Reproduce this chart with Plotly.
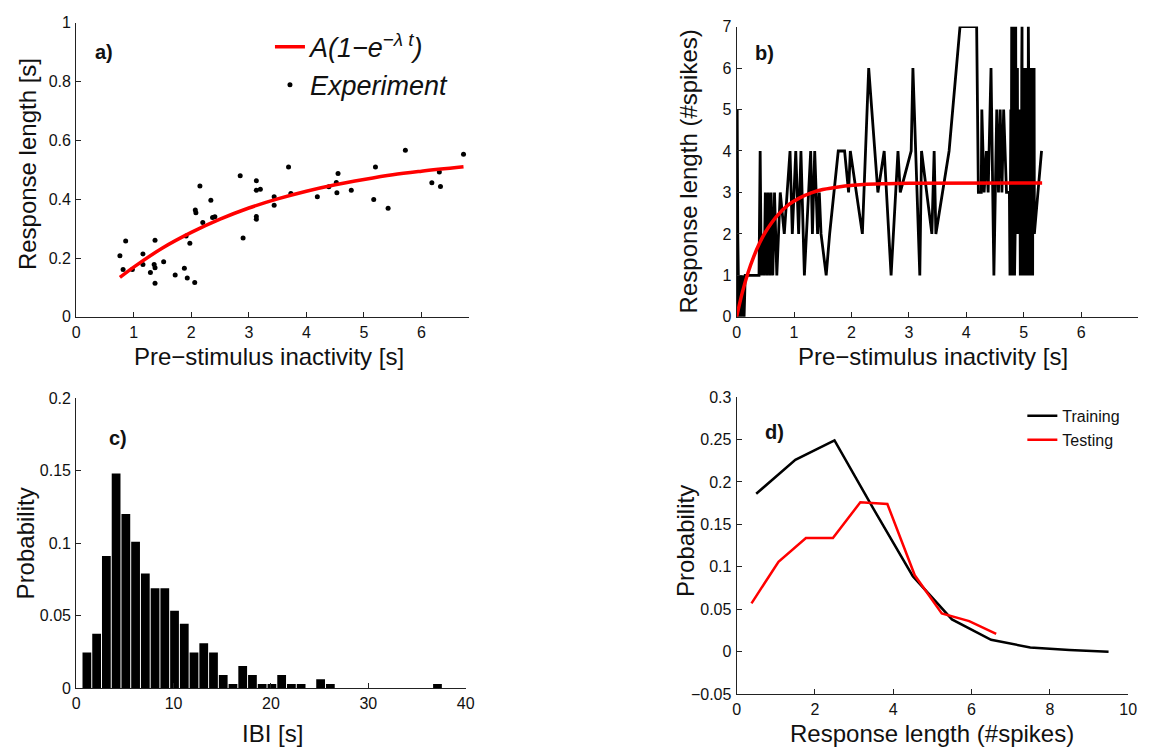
import plotly.graph_objects as go

FONT = "Liberation Sans, Arial, Helvetica, sans-serif"
W, H = 1149, 753

# ---------------- panel a: response length vs. pre-stimulus inactivity ----------------
pre_t = [0.76, 0.815, 0.86, 0.976, 1.16, 1.16, 1.29, 1.37, 1.355, 1.37, 1.37, 1.52,
         1.72, 1.88, 1.91, 1.93, 1.975, 2.06, 2.07, 2.08, 2.15, 2.20, 2.34, 2.37,
         2.41, 2.85, 2.90, 3.13, 3.13, 3.13, 3.13, 3.20, 3.44, 3.44, 3.69, 3.73,
         4.19, 4.39, 4.52, 4.55, 4.53, 4.78, 5.17, 5.20, 5.42, 5.72, 6.18, 6.31,
         6.33, 6.73]
resp_len = [0.208, 0.161, 0.258, 0.161, 0.214, 0.178, 0.151, 0.260, 0.178, 0.167,
            0.114, 0.187, 0.142, 0.165, 0.275, 0.132, 0.250, 0.117, 0.363, 0.354,
            0.445, 0.321, 0.396, 0.338, 0.340, 0.480, 0.268, 0.463, 0.430, 0.341,
            0.332, 0.434, 0.408, 0.379, 0.509, 0.419, 0.408, 0.442, 0.457, 0.487,
            0.422, 0.430, 0.399, 0.509, 0.369, 0.566, 0.456, 0.492, 0.443, 0.553]

# fitted curve A(1-exp(-lambda t)) sampled along t
fit_t = [0.76, 1.0, 1.5, 2.0, 2.5, 3.0, 3.5, 4.0, 4.5, 5.0, 5.5, 6.0, 6.73]
fit_len = [0.134, 0.169, 0.234, 0.287, 0.332, 0.370, 0.401, 0.427, 0.449, 0.467,
           0.483, 0.495, 0.510]

# ---------------- panel b: response length in spikes ----------------
spk_t = [0.00, 0.01, 0.02, 0.04, 0.06, 0.08, 0.10, 0.13, 0.15, 0.39, 0.41, 0.43,
         0.45, 0.48, 0.50, 0.53, 0.55, 0.58, 0.60, 0.63, 0.66, 0.70, 0.76, 0.83,
         0.93, 0.97, 1.03, 1.08, 1.12, 1.18, 1.29, 1.32, 1.36, 1.41, 1.44, 1.47,
         1.56, 1.62, 1.77, 1.88, 1.95, 1.98, 2.19, 2.30, 2.46, 2.57, 2.69, 2.81,
         2.85, 3.04, 3.07, 3.19, 3.22, 3.40, 3.44, 3.47, 3.70, 3.89, 4.18, 4.21,
         4.26, 4.27, 4.31, 4.35, 4.38, 4.43, 4.48, 4.53, 4.56, 4.59, 4.62, 4.65,
         4.70, 4.75,
         4.760, 4.765, 4.770, 4.775, 4.780, 4.785, 4.790, 4.795, 4.800, 4.805,
         4.810, 4.815, 4.820, 4.825, 4.830, 4.835, 4.840, 4.845, 4.850, 4.855,
         4.860, 4.865, 4.870, 4.875, 4.880, 4.885, 4.890, 4.895, 4.900, 4.905,
         4.910, 4.915, 4.920, 4.925, 4.930, 4.935, 4.940, 4.945, 4.950, 4.955,
         4.960, 4.965, 4.970, 4.975, 4.980, 4.985, 4.990, 4.995, 5.000, 5.005,
         5.010, 5.015, 5.020, 5.025, 5.030, 5.035, 5.040, 5.045, 5.050, 5.055,
         5.060, 5.065, 5.070, 5.075, 5.080, 5.085, 5.090, 5.095, 5.100, 5.105,
         5.110, 5.115, 5.120, 5.125, 5.130, 5.135, 5.140, 5.145, 5.150, 5.155,
         5.160, 5.165, 5.170, 5.175, 5.180, 5.185, 5.310]
spk_n = [0, 5, 2, 0, 1, 0, 1, 0, 1, 1, 4, 1,
         2, 1, 3, 1, 3, 1, 3, 1, 3, 1, 3, 2,
         4, 2, 4, 2, 4, 1, 4, 2, 4, 2, 3, 2,
         1, 2, 4, 4, 3, 4, 2, 6, 3, 4, 1, 4,
         3, 4, 6, 1, 4, 2, 4, 2, 4, 7, 7, 3,
         3, 5, 3, 4, 3, 6, 1, 5, 3, 5, 3, 5,
         3, 3,
         1, 5, 2, 5, 1, 4, 7, 2, 1, 5,
         3, 5, 1, 4, 2, 7, 1, 5, 2, 5,
         7, 2, 5, 3, 2, 5, 6, 2, 5, 3,
         2, 5, 2, 4, 5, 2, 1, 5, 3, 5,
         1, 6, 7, 1, 5, 2, 6, 1, 5, 2,
         6, 1, 5, 2, 6, 1, 5, 3, 6, 1,
         5, 2, 6, 1, 7, 1, 5, 2, 6, 1,
         5, 1, 6, 2, 5, 1, 6, 2, 5, 1,
         6, 2, 5, 2, 6, 2, 4]

fit_spk_t = [0.0, 0.1, 0.2, 0.3, 0.4, 0.5, 0.7, 0.9, 1.1, 1.3, 1.5, 1.8, 2.2, 2.6,
             3.0, 5.32]
fit_spk_n = [0.0, 0.59, 1.07, 1.46, 1.78, 2.04, 2.43, 2.70, 2.87, 2.99, 3.07, 3.14,
             3.19, 3.21, 3.22, 3.23]

# ---------------- panel c: inter-burst interval histogram ----------------
ibi_s = [1.1, 2.1, 3.1, 4.1, 5.1, 6.1, 7.1, 8.1, 9.1, 10.1, 11.1, 12.1, 13.1,
         14.1, 15.1, 16.1, 17.1, 18.1, 19.1, 20.1, 21.1, 22.1, 23.1, 25.1, 26.1,
         37.1]
ibi_prob = [0.0247, 0.0375, 0.0912, 0.148, 0.120, 0.101, 0.079, 0.069, 0.069,
            0.0535, 0.0445, 0.0247, 0.031, 0.0247, 0.0092, 0.003, 0.0153, 0.0092,
            0.003, 0.003, 0.0092, 0.003, 0.003, 0.0063, 0.003, 0.003]

# ---------------- panel d: response length distributions ----------------
train_len = [0.5, 1.5, 2.5, 3.5, 4.5, 5.5, 6.5, 7.5, 8.5, 9.5]
train_prob = [0.186, 0.226, 0.249, 0.168, 0.089, 0.038, 0.014, 0.005, 0.002, 0.0]
test_len = [0.38, 1.07, 1.77, 2.46, 3.16, 3.85, 4.55, 5.24, 5.94, 6.63]
test_prob = [0.057, 0.106, 0.134, 0.134, 0.176, 0.174, 0.090, 0.045, 0.036, 0.021]

RED = "#ff0000"
INK = "#111111"


def fx(px):
    return px / W


def fy(py):
    return 1 - py / H


fig = go.Figure()

# panel a
fig.add_trace(go.Scatter(x=pre_t, y=resp_len, mode="markers",
                         marker=dict(color="black", size=5),
                         name="<i>Experiment</i>", legend="legend", legendrank=2,
                         xaxis="x", yaxis="y"))
fig.add_trace(go.Scatter(x=fit_t, y=fit_len, mode="lines",
                         line=dict(color=RED, width=3.5, shape="spline"),
                         name="<i>A(1−e<sup>−λ t</sup>)</i>", legend="legend",
                         legendrank=1, xaxis="x", yaxis="y"))

# panel b
fig.add_trace(go.Scatter(x=spk_t, y=spk_n, mode="lines",
                         line=dict(color="black", width=2.8),
                         showlegend=False, xaxis="x2", yaxis="y2"))
fig.add_trace(go.Scatter(x=fit_spk_t, y=fit_spk_n, mode="lines",
                         line=dict(color=RED, width=3.5, shape="spline"),
                         showlegend=False, xaxis="x2", yaxis="y2"))

# panel c
fig.add_trace(go.Bar(x=ibi_s, y=ibi_prob, width=0.9,
                     marker=dict(color="black", line=dict(width=0)),
                     showlegend=False, xaxis="x3", yaxis="y3"))

# panel d
fig.add_trace(go.Scatter(x=train_len, y=train_prob, mode="lines",
                         line=dict(color="black", width=2.5),
                         name="Training", legend="legend2",
                         xaxis="x4", yaxis="y4"))
fig.add_trace(go.Scatter(x=test_len, y=test_prob, mode="lines",
                         line=dict(color=RED, width=2.5),
                         name="Testing", legend="legend2",
                         xaxis="x4", yaxis="y4"))

axis_style = dict(showline=True, linecolor="#222222", linewidth=1,
                  ticks="inside", ticklen=5, tickcolor="#222222",
                  showgrid=False, zeroline=False, mirror=False,
                  tickfont=dict(family=FONT, size=16, color=INK),
                  ticklabelstandoff=1)

fig.update_layout(
    width=W, height=H,
    margin=dict(l=0, r=0, t=0, b=0),
    paper_bgcolor="white", plot_bgcolor="white",
    font=dict(family=FONT, color=INK),
    xaxis=dict(axis_style, domain=[fx(73), fx(470)], range=[0, 6.82],
               tickvals=[0, 1, 2, 3, 4, 5, 6], anchor="y"),
    yaxis=dict(axis_style, domain=[fy(316), fy(15)], range=[0, 1],
               tickvals=[0, 0.2, 0.4, 0.6, 0.8, 1], anchor="x"),
    xaxis2=dict(axis_style, domain=[fx(741), fx(1147)], range=[0, 6.99],
                tickvals=[0, 1, 2, 3, 4, 5, 6], anchor="y2"),
    yaxis2=dict(axis_style, domain=[fy(316), fy(19)], range=[0, 7],
                tickvals=[0, 1, 2, 3, 4, 5, 6, 7], anchor="x2"),
    xaxis3=dict(axis_style, domain=[fx(73), fx(467)], range=[0, 40],
                tickvals=[0, 10, 20, 30, 40], anchor="y3"),
    yaxis3=dict(axis_style, domain=[fy(696), fy(399)], range=[0, 0.2],
                tickvals=[0, 0.05, 0.1, 0.15, 0.2], anchor="x3"),
    xaxis4=dict(axis_style, domain=[fx(741), fx(1137)], range=[0, 10],
                tickvals=[0, 2, 4, 6, 8, 10], anchor="y4"),
    yaxis4=dict(axis_style, domain=[fy(702), fy(398)], range=[-0.05, 0.3],
                tickvals=[-0.05, 0, 0.05, 0.1, 0.15, 0.2, 0.25, 0.3], anchor="x4"),
    legend=dict(x=fx(269), y=fy(15), xanchor="left", yanchor="top",
                bgcolor="rgba(0,0,0,0)", borderwidth=0,
                font=dict(family=FONT, size=27, color=INK),
                tracegroupgap=0, itemwidth=30),
    legend2=dict(x=fx(1030), y=fy(400), xanchor="left", yanchor="top",
                 bgcolor="rgba(0,0,0,0)", borderwidth=0,
                 font=dict(family=FONT, size=16, color=INK),
                 tracegroupgap=0, itemwidth=30),
)

title_font = dict(family=FONT, size=24, color=INK)
panel_font = dict(family=FONT, size=20, color=INK, weight="bold")

annotations = [
    # axis titles
    dict(text="Pre−stimulus inactivity [s]", x=fx(268), y=fy(357), font=title_font),
    dict(text="Response length [s]", x=fx(24), y=fy(160), textangle=-90, font=title_font),
    dict(text="Pre−stimulus inactivity [s]", x=fx(940), y=fy(357), font=title_font),
    dict(text="Response length (#spikes)", x=fx(692), y=fy(167), textangle=-90, font=title_font),
    dict(text="IBI [s]", x=fx(272), y=fy(742), font=title_font),
    dict(text="Probability", x=fx(22), y=fy(548), textangle=-90, font=title_font),
    dict(text="Response length (#spikes)", x=fx(939), y=fy(742), font=title_font),
    dict(text="Probability", x=fx(690), y=fy(545), textangle=-90, font=title_font),
    # panel letters
    dict(text="a)", x=fx(101), y=fy(45), font=panel_font),
    dict(text="b)", x=fx(769), y=fy(46), font=panel_font),
    dict(text="c)", x=fx(115), y=fy(440), font=panel_font),
    dict(text="d)", x=fx(779), y=fy(434), font=panel_font),
]
for a in annotations:
    a.update(xref="paper", yref="paper", showarrow=False,
             xanchor="center", yanchor="middle")
fig.update_layout(annotations=annotations)

fig.write_html("out.html")
